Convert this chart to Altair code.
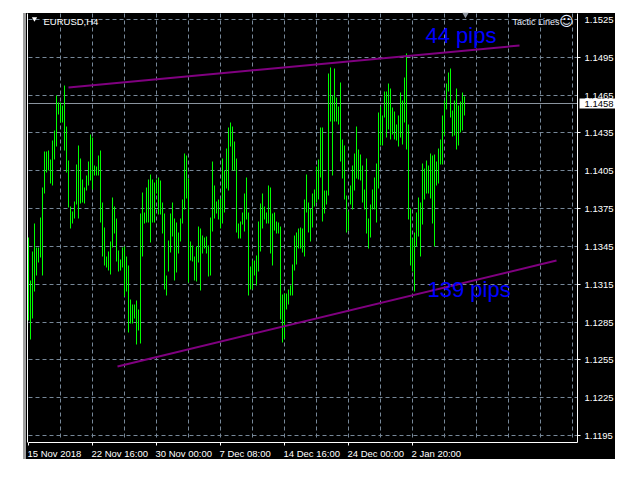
import altair as alt
import pandas as pd

highs = [
11352,11318,11341,11363,11344,11344,11368,11392,11420,11420,11421,11414,11429,11437,11465,11459,11459,11457,11473,11440,
11413,11377,11373,11381,11410,11425,11415,11398,11392,11401,11412,11434,11431,11409,11408,11417,11421,11380,11360,11337,
11341,11349,11384,11377,11367,11342,11335,11344,11345,11337,11330,11303,11299,11299,11302,11295,11371,11388,11372,11392,
11398,11402,11398,11396,11398,11400,11397,11380,11371,11322,11350,11371,11380,11367,11364,11356,11367,11382,11419,11417,
11399,11349,11346,11337,11345,11361,11359,11354,11352,11353,11346,11368,11412,11393,11381,11382,11383,11415,11405,11423,
11439,11443,11440,11428,11415,11363,11365,11372,11387,11400,11372,11329,11334,11334,11338,11365,11379,11387,11377,11372,
11393,11392,11371,11372,11365,11364,11361,11307,11308,11308,11311,11314,11331,11354,11356,11359,11360,11359,11382,11402,
11380,11375,11387,11390,11408,11414,11439,11439,11389,11389,11482,11487,11465,11486,11463,11456,11475,11430,11425,11385,
11373,11393,11409,11419,11440,11422,11418,11409,11390,11415,11367,11378,11390,11400,11411,11451,11456,11449,11468,11468,
11474,11470,11455,11452,11442,11449,11467,11461,11479,11498,11442,11375,11351,11356,11372,11384,11380,11411,11407,11413,
11409,11419,11417,11418,11412,11423,11430,11449,11461,11474,11483,11486,11453,11461,11470,11457,11460,11467,11464,
]
lows = [
11286,11271,11288,11309,11322,11332,11336,11322,11387,11404,11405,11395,11393,11414,11424,11450,11443,11443,11421,11404,
11376,11359,11363,11367,11378,11367,11379,11380,11379,11389,11393,11397,11390,11401,11401,11401,11364,11337,11330,11328,
11326,11323,11344,11355,11333,11325,11326,11328,11305,11309,11277,11284,11284,11288,11267,11278,11268,11337,11363,11364,
11364,11348,11364,11364,11387,11370,11370,11355,11311,11306,11325,11340,11353,11318,11324,11339,11349,11363,11374,11383,
11316,11334,11333,11318,11317,11332,11310,11339,11343,11339,11321,11322,11357,11367,11371,11366,11359,11363,11372,11391,
11389,11424,11405,11405,11356,11351,11351,11362,11357,11366,11306,11311,11311,11322,11314,11325,11341,11359,11366,11363,
11363,11339,11330,11358,11355,11355,11287,11269,11272,11295,11299,11306,11306,11326,11331,11343,11343,11340,11337,11372,
11356,11349,11360,11377,11380,11382,11400,11365,11371,11378,11385,11444,11401,11444,11444,11442,11412,11399,11382,11356,
11358,11378,11374,11389,11399,11398,11397,11380,11374,11355,11343,11352,11374,11374,11364,11391,11425,11425,11447,11431,
11438,11430,11434,11430,11429,11424,11431,11426,11443,11422,11366,11330,11325,11309,11345,11353,11337,11362,11382,11387,
11387,11383,11363,11345,11393,11395,11410,11410,11433,11454,11468,11447,11432,11433,11422,11425,11435,11437,11449,
]
y_ticks = [1.1525,1.1495,1.1465,1.1435,1.1405,1.1375,1.1345,1.1315,1.1285,1.1255,1.1225,1.1195]
x_grid = [16,32,48,64,80,96,112,128,144,160,176,192,208,224,240,256,272]
x_ticks = [0,32,64,96,128,160,192]
x_labels = ["15 Nov 2018","22 Nov 16:00","30 Nov 00:00","7 Dec 08:00","14 Dec 16:00","24 Dec 00:00","2 Jan 20:00"]
upper_line = {"x":[20,245.4],"y":[1.14713,1.15040]}
lower_line = {"x":[44.4,263.9],"y":[1.12494,1.13340]}
price = 1.1458
notes = pd.DataFrame({"x":[198.5,199.5],"y":[1.1507,1.1305],"t":["44 pips","139 pips"]})

FONT = "Liberation Sans"
W, H = 549, 429
xs = alt.Scale(domain=[0, W/2], range=[0, W], round=True)
ys = alt.Scale(domain=[1.118945, 1.152976], range=[H, 0], round=True)
X = alt.X("x:Q", scale=xs, axis=alt.Axis(values=x_ticks, title=None, grid=False, zindex=1, translate=0,
        domainColor="#ffffff", tickColor="#ffffff", tickSize=3, labelColor="#ffffff", labelFont=FONT,
        labelFontSize=9.5, labelAlign="left", labelFlush=False, labelPadding=3, labelOverlap=False, labelOffset=-1,
        labelExpr="%r[datum.value/32]" % x_labels))
Y = alt.Y("y:Q", scale=ys, axis=alt.Axis(orient="right", values=y_ticks, title=None, grid=False, zindex=1, translate=0,
        domainColor="#ffffff", tickColor="#ffffff", tickSize=3, labels=False))

bars = pd.DataFrame({"x":list(range(len(highs))),
                     "y":[v/10000 for v in highs], "y2":[v/10000 for v in lows]})
one = pd.DataFrame({"a":[0]})

black = alt.Chart(one).mark_rect(color="#000000").encode(x=alt.value(-5.5), x2=alt.value(586.5), y=alt.value(-0.5), y2=alt.value(445.5))
stripe = alt.Chart(one).mark_rect(color="#a0a0a0").encode(x=alt.value(-5.5), x2=alt.value(-2.5), y=alt.value(-0.5), y2=alt.value(445.5))
base = alt.Chart(pd.DataFrame({"x":x_ticks,"y":[y_ticks[0]]*len(x_ticks)})).mark_point(opacity=0).encode(x=X, y=Y)
left = alt.Chart(one).mark_rule(color="#ffffff").encode(x=alt.value(-1), y=alt.value(0), y2=alt.value(H))
vgrid = alt.Chart(pd.DataFrame({"x":x_grid})).mark_rule(color="#778899", strokeDash=[4,3], strokeWidth=1).encode(
    x=alt.X("x:Q", scale=xs), y=alt.value(0), y2=alt.value(H-2))
hgrid = alt.Chart(pd.DataFrame({"y":y_ticks})).mark_rule(color="#778899", strokeDash=[4,3], strokeWidth=1).encode(
    y=alt.Y("y:Q", scale=ys), x=alt.value(0), x2=alt.value(W))
pline = alt.Chart(pd.DataFrame({"y":[price]})).mark_rule(color="#8a949e", strokeWidth=1).encode(
    y=alt.Y("y:Q", scale=ys), x=alt.value(0), x2=alt.value(W))
ohlc = alt.Chart(bars).mark_rule(color="#00ff00", strokeWidth=1).encode(
    x=alt.X("x:Q", scale=xs), y=alt.Y("y:Q", scale=ys), y2="y2:Q")
upper = alt.Chart(pd.DataFrame(upper_line)).mark_line(color="#800080", strokeWidth=2).encode(
    x=alt.X("x:Q", scale=xs), y=alt.Y("y:Q", scale=ys))
lower = alt.Chart(pd.DataFrame(lower_line)).mark_line(color="#800080", strokeWidth=2).encode(
    x=alt.X("x:Q", scale=xs), y=alt.Y("y:Q", scale=ys))
note = alt.Chart(notes).mark_text(color="#0000ff", font=FONT, fontSize=22, align="left", baseline="alphabetic").encode(
    x=alt.X("x:Q", scale=xs), y=alt.Y("y:Q", scale=ys), text="t:N")
ylabels = alt.Chart(pd.DataFrame({"y":y_ticks})).mark_text(color="#ffffff", font=FONT, fontSize=9.5, align="left", baseline="middle").encode(
    x=alt.value(556), y=alt.Y("y:Q", scale=ys), text=alt.Text("y:Q", format=".4f"))
pbox = alt.Chart(pd.DataFrame({"y":[price]})).mark_rect(color="#ffffff", height=10, width=36).encode(
    x=alt.value(569), y=alt.Y("y:Q", scale=ys))
ptext = alt.Chart(pd.DataFrame({"y":[price]})).mark_text(color="#000000", font=FONT, fontSize=9.5, align="left", baseline="middle").encode(
    x=alt.value(556), y=alt.Y("y:Q", scale=ys), text=alt.Text("y:Q", format=".4f"))
sym = alt.Chart(one.assign(t="EURUSD,H4")).mark_text(color="#ffffff", font=FONT, fontSize=9.5, align="left", baseline="alphabetic").encode(
    x=alt.value(15), y=alt.value(11), text="t:N")
tri = alt.Chart(one).mark_point(shape="triangle-down", filled=True, color="#ffffff", size=28, opacity=1).encode(
    x=alt.value(6), y=alt.value(6))
shift = alt.Chart(one).mark_point(shape="triangle-down", filled=True, color="#8f96a0", size=40, opacity=1).encode(
    x=alt.value(437), y=alt.value(2))
tactic = alt.Chart(one.assign(t="Tactic Lines")).mark_text(color="#e8f0ff", font=FONT, fontSize=9, align="right", baseline="alphabetic").encode(
    x=alt.value(531), y=alt.value(11), text="t:N")
smile = alt.Chart(one.assign(t="\u263a")).mark_text(color="#e8f0ff", font="DejaVu Sans", fontSize=14, align="center", baseline="middle").encode(
    x=alt.value(538), y=alt.value(8), text="t:N")

chart = alt.layer(black, stripe, vgrid, hgrid, base, pline, ohlc, upper, lower, note, ylabels, pbox, ptext, left, sym, tri, shift, tactic, smile).properties(
    width=W, height=H,
    autosize=alt.AutoSizeParams(type="none"),
    padding={"left":20.5,"top":5.5,"right":45,"bottom":25},
    background="white",
).configure_view(stroke=None)

chart.save("out.html", embed_options={"renderer": "svg", "actions": False})
